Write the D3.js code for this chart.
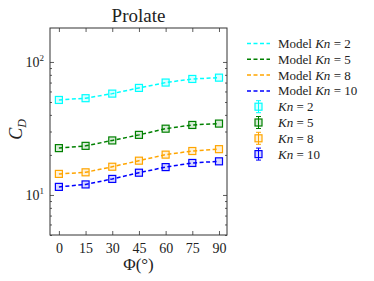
<!DOCTYPE html>
<html>
<head>
<meta charset="utf-8">
<script src="https://cdn.jsdelivr.net/npm/d3@7"></script>
<style>
  body { margin: 0; background: #fff; }
  text { font-family: "Liberation Serif", "DejaVu Serif", serif; fill: #222; }
</style>
</head>
<body>
<div id="chart"></div>
<script>
var angles = [0, 15, 30, 45, 60, 75, 90];
var knValues = [2, 5, 8, 10];
var colors = ['#00ffff', '#008000', '#ffa500', '#0000ff'];
// measured drag coefficient
var cdKn2 = [51.8, 53.4, 57.8, 63.8, 70.0, 74.5, 76.2];
var cdKn5 = [22.5, 23.4, 25.7, 28.3, 31.5, 33.6, 34.4];
var cdKn8 = [14.4, 14.8, 16.3, 18.1, 20.1, 21.4, 22.1];
var cdKn10 = [11.5, 12.0, 13.2, 14.7, 16.2, 17.4, 17.9];
// model curves
var modelKn2 = [51.8, 53.4, 57.8, 63.8, 70.0, 74.5, 76.2];
var modelKn5 = [22.5, 23.4, 25.7, 28.3, 31.5, 33.6, 34.4];
var modelKn8 = [14.4, 14.8, 16.3, 18.1, 20.1, 21.4, 22.1];
var modelKn10 = [11.5, 12.0, 13.2, 14.7, 16.2, 17.4, 17.9];
var xTicks = [0, 15, 30, 45, 60, 75, 90];

var cdSets = [cdKn2, cdKn5, cdKn8, cdKn10];
var modelSets = [modelKn2, modelKn5, modelKn8, modelKn10];

var width = 374, height = 281;
var margin = { left: 50, top: 28, right: 147, bottom: 46 };

var svg = d3.select('#chart').append('svg')
    .attr('width', width)
    .attr('height', height);

var x = d3.scaleLinear().domain([-5, 94.5]).range([margin.left, width - margin.right]);
var y = d3.scaleLog().domain([5, 180]).range([height - margin.bottom, margin.top]);

/* --------- AXES ---------*/
var g = svg.append('g');
var minor = [];
[1, 10, 100].forEach(function (dec) {
    for (var k = 1; k < 10; k++) {
        var v = dec * k;
        if (v >= 5 && v <= 180 && k !== 1) minor.push(v);
    }
});

function tickStyle(sel) {
    sel.selectAll('.domain').remove();
    sel.selectAll('line').attr('stroke', '#333').attr('stroke-width', 0.8);
}

g.append('g').attr('transform', 'translate(0,' + y.range()[0] + ')')
    .call(d3.axisBottom(x).tickValues(xTicks).tickSize(-4).tickPadding(8).tickFormat(d3.format('d')))
    .call(tickStyle)
    .selectAll('text').attr('font-size', 14).attr('fill', '#222')
    .attr('font-family', '"Liberation Serif", serif');

g.append('g').attr('transform', 'translate(0,' + y.range()[1] + ')')
    .call(d3.axisTop(x).tickValues(xTicks).tickSize(-4).tickFormat(''))
    .call(tickStyle);

[[margin.left, d3.axisLeft], [width - margin.right, d3.axisRight]].forEach(function (s) {
    g.append('g').attr('transform', 'translate(' + s[0] + ',0)')
        .call(s[1](y).tickValues([10, 100]).tickSize(-4).tickFormat(''))
        .call(tickStyle);
    g.append('g').attr('transform', 'translate(' + s[0] + ',0)')
        .call(s[1](y).tickValues(minor).tickSize(-2).tickFormat(''))
        .call(tickStyle);
});

// decade labels
[10, 100].forEach(function (v) {
    var t = g.append('text')
        .attr('x', margin.left - 6)
        .attr('y', y(v) + 5)
        .attr('text-anchor', 'end')
        .attr('font-size', 14);
    t.append('tspan').text('10');
    t.append('tspan').attr('dy', -6).attr('font-size', 9).text(v === 10 ? '1' : '2');
});

g.append('rect')
    .attr('x', margin.left).attr('y', margin.top)
    .attr('width', x.range()[1] - x.range()[0])
    .attr('height', y.range()[0] - y.range()[1])
    .attr('fill', 'none').attr('stroke', '#333').attr('stroke-width', 1);

/* --------- LABELS ---------*/
svg.append('text')
    .attr('x', (x.range()[0] + x.range()[1]) / 2)
    .attr('y', 22)
    .attr('text-anchor', 'middle')
    .attr('font-size', 19)
    .text('Prolate');

svg.append('text')
    .attr('x', (x.range()[0] + x.range()[1]) / 2)
    .attr('y', 270)
    .attr('text-anchor', 'middle')
    .attr('font-size', 17)
    .text('Φ(°)');

var yl = svg.append('text')
    .attr('transform', 'translate(22,' + ((y.range()[0] + y.range()[1]) / 2 - 2) + ') rotate(-90)')
    .attr('text-anchor', 'middle')
    .attr('font-size', 18);
yl.append('tspan').attr('font-style', 'italic').text('C');
yl.append('tspan').attr('font-style', 'italic').attr('font-size', 12).attr('dy', 4).text('D');

/* --------- SERIES ---------*/
var line = d3.line()
    .x(function (d, i) { return x(angles[i]); })
    .y(function (d) { return y(d); });

modelSets.forEach(function (m, k) {
    svg.append('path')
        .attr('d', line(m))
        .attr('fill', 'none')
        .attr('stroke', colors[k])
        .attr('stroke-width', 1.5)
        .attr('stroke-dasharray', '4,2.5');
});

cdSets.forEach(function (c, k) {
    svg.append('g').selectAll('rect').data(c).enter()
        .append('rect')
        .attr('x', function (d, i) { return x(angles[i]) - 3.5; })
        .attr('y', function (d) { return y(d) - 3.5; })
        .attr('width', 7).attr('height', 7)
        .attr('fill', colors[k]).attr('fill-opacity', 0.15)
        .attr('stroke', colors[k]).attr('stroke-width', 1.2);
});

/* --------- LEGEND ---------*/
var lg = svg.append('g');
var ly0 = 43.5, ldy = 15.8;
knValues.forEach(function (kn, k) {
    var yy = ly0 + k * ldy;
    lg.append('line')
        .attr('x1', 247).attr('x2', 270).attr('y1', yy).attr('y2', yy)
        .attr('stroke', colors[k]).attr('stroke-width', 1.5)
        .attr('stroke-dasharray', '4,2.5');
    var t = lg.append('text').attr('x', 278).attr('y', yy + 4.5).attr('font-size', 13);
    t.append('tspan').text('Model ');
    t.append('tspan').attr('font-style', 'italic').text('Kn');
    t.append('tspan').text(' = ' + kn);
});
knValues.forEach(function (kn, k) {
    var yy = ly0 + (k + 4) * ldy;
    var cx = 258.5;
    lg.append('line').attr('x1', cx).attr('x2', cx).attr('y1', yy - 6).attr('y2', yy + 6)
        .attr('stroke', colors[k]).attr('stroke-width', 1);
    [-6, 6].forEach(function (o) {
        lg.append('line').attr('x1', cx - 2.5).attr('x2', cx + 2.5).attr('y1', yy + o).attr('y2', yy + o)
            .attr('stroke', colors[k]).attr('stroke-width', 1);
    });
    lg.append('rect').attr('x', cx - 3.5).attr('y', yy - 3.5).attr('width', 7).attr('height', 7)
        .attr('fill', colors[k]).attr('fill-opacity', 0.15)
        .attr('stroke', colors[k]).attr('stroke-width', 1.2);
    var t = lg.append('text').attr('x', 278).attr('y', yy + 4.5).attr('font-size', 13);
    t.append('tspan').attr('font-style', 'italic').text('Kn');
    t.append('tspan').text(' = ' + kn);
});
</script>
</body>
</html>
